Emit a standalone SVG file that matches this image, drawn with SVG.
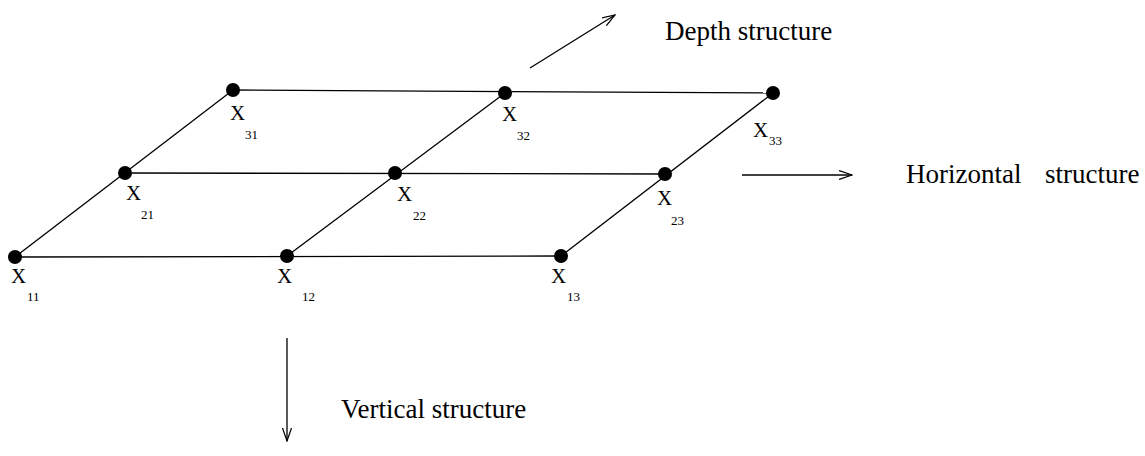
<svg xmlns="http://www.w3.org/2000/svg" width="1145" height="456" viewBox="0 0 1145 456">
<style>
.l{stroke:#000;stroke-width:1.3;fill:none}
.n{fill:#000}
.t{font-family:"Liberation Serif",serif;font-size:27px;fill:#000}
.x{font-family:"Liberation Serif",serif;font-size:21px;fill:#000}
.s{font-family:"Liberation Serif",serif;font-size:13px;fill:#000}
</style>
<defs>
<marker id="a" markerWidth="14" markerHeight="10" refX="13" refY="5" orient="auto" markerUnits="userSpaceOnUse">
<path d="M0,0.5 L13,5 L0,9.5" fill="none" stroke="#000" stroke-width="1.2"/>
</marker>
</defs>
<rect width="1145" height="456" fill="#fff"/>
<g id="connectors">
<line class="l" x1="15" y1="257" x2="561" y2="256"/>
<line class="l" x1="125" y1="173" x2="665" y2="174"/>
<line class="l" x1="233" y1="90" x2="773" y2="93"/>
<line class="l" x1="15" y1="257" x2="233" y2="90"/>
<line class="l" x1="287" y1="256" x2="505" y2="93"/>
<line class="l" x1="561" y1="256" x2="773" y2="93"/>
<line class="l" x1="530" y1="68" x2="615" y2="15" marker-end="url(#a)"/>
<line class="l" x1="742" y1="175" x2="852" y2="175" marker-end="url(#a)"/>
<line class="l" x1="287" y1="338" x2="287" y2="441" marker-end="url(#a)"/>
</g>
<g id="n11"><circle class="n" cx="15" cy="257" r="7"/><text class="x" x="11" y="283">X</text><text class="s" x="27" y="301">11</text></g>
<g id="n12"><circle class="n" cx="287" cy="256" r="7"/><text class="x" x="277" y="283">X</text><text class="s" x="302" y="301">12</text></g>
<g id="n13"><circle class="n" cx="561" cy="256" r="7"/><text class="x" x="551" y="283">X</text><text class="s" x="567" y="301">13</text></g>
<g id="n21"><circle class="n" cx="125" cy="173" r="7"/><text class="x" x="126" y="200">X</text><text class="s" x="141" y="219">21</text></g>
<g id="n22"><circle class="n" cx="395" cy="173" r="7"/><text class="x" x="397" y="201">X</text><text class="s" x="413" y="220">22</text></g>
<g id="n23"><circle class="n" cx="665" cy="174" r="7"/><text class="x" x="657" y="205">X</text><text class="s" x="671" y="225">23</text></g>
<g id="n31"><circle class="n" cx="233" cy="90" r="7"/><text class="x" x="230" y="120">X</text><text class="s" x="245" y="139">31</text></g>
<g id="n32"><circle class="n" cx="505" cy="93" r="7"/><text class="x" x="502" y="121">X</text><text class="s" x="517" y="140">32</text></g>
<g id="n33"><circle class="n" cx="773" cy="93" r="7"/><text class="x" x="753" y="137">X</text><text class="s" x="769" y="145">33</text></g>
<g id="labels">
<text class="t" x="665" y="40">Depth structure</text>
<text class="t" x="906" y="183">Horizontal</text>
<text class="t" x="1045" y="183">structure</text>
<text class="t" x="341" y="418">Vertical structure</text>
</g>
</svg>
